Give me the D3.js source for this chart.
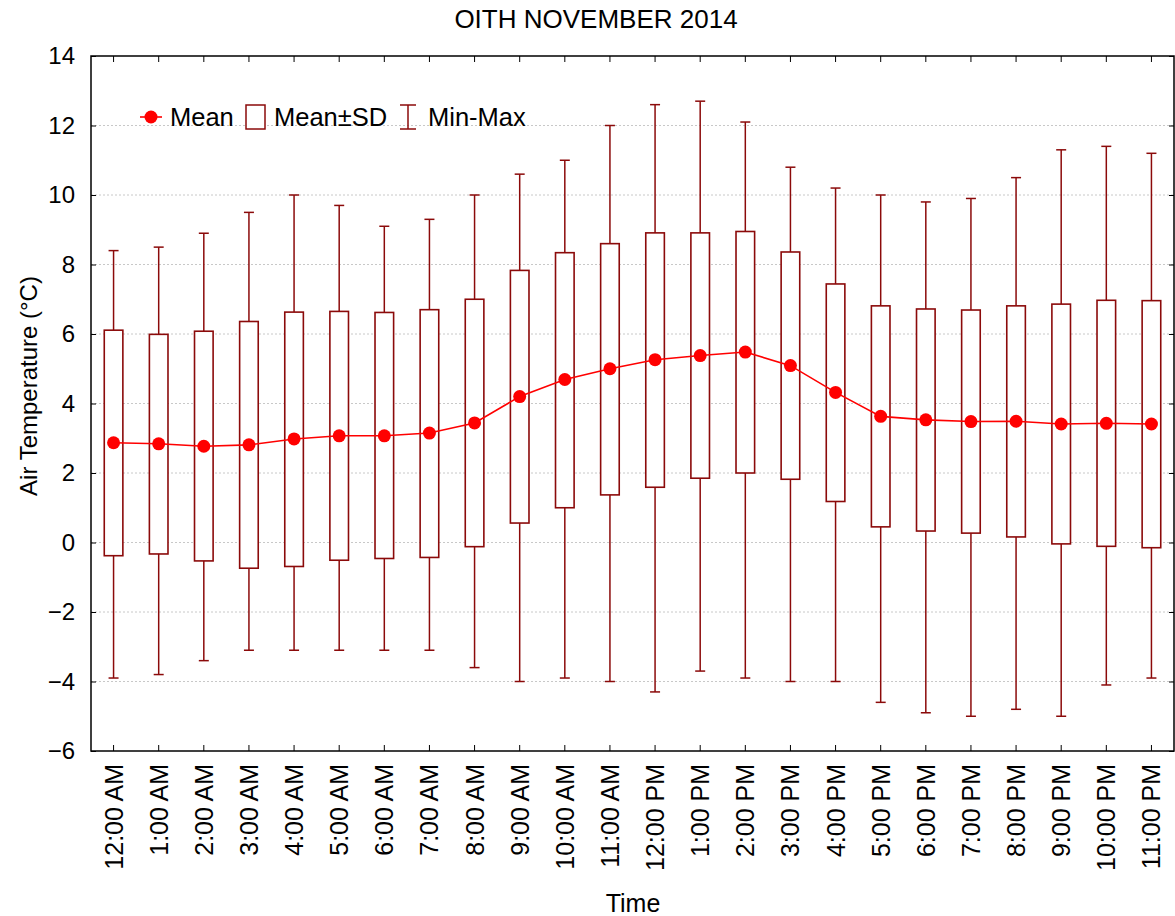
<!DOCTYPE html>
<html><head><meta charset="utf-8">
<script src="https://cdn.jsdelivr.net/npm/d3@7"></script>
<style>body{margin:0;background:#fff}svg{display:block}text{font-family:"Liberation Sans",Arial,sans-serif;fill:#000}</style>
</head><body><svg id="c" width="1175" height="916"></svg>
<script>
const categories = ["12:00 AM","1:00 AM","2:00 AM","3:00 AM","4:00 AM","5:00 AM","6:00 AM","7:00 AM","8:00 AM","9:00 AM","10:00 AM","11:00 AM","12:00 PM","1:00 PM","2:00 PM","3:00 PM","4:00 PM","5:00 PM","6:00 PM","7:00 PM","8:00 PM","9:00 PM","10:00 PM","11:00 PM"];
const meanVals = [2.87,2.84,2.77,2.81,2.98,3.07,3.07,3.15,3.44,4.20,4.69,5.00,5.26,5.38,5.48,5.09,4.32,3.63,3.53,3.48,3.49,3.41,3.43,3.41];
const sdHigh = [6.11,5.99,6.08,6.36,6.63,6.65,6.62,6.70,7.00,7.83,8.34,8.60,8.91,8.91,8.95,8.36,7.44,6.81,6.72,6.69,6.81,6.86,6.97,6.96];
const sdLow = [-0.38,-0.33,-0.53,-0.74,-0.69,-0.51,-0.46,-0.43,-0.12,0.56,1.00,1.37,1.59,1.85,2.00,1.82,1.18,0.45,0.33,0.27,0.16,-0.04,-0.11,-0.15];
const maxVals = [8.4,8.5,8.9,9.5,10.0,9.7,9.1,9.3,10.0,10.6,11.0,12.0,12.6,12.7,12.1,10.8,10.2,10.0,9.8,9.9,10.5,11.3,11.4,11.2];
const minVals = [-3.9,-3.8,-3.4,-3.1,-3.1,-3.1,-3.1,-3.1,-3.6,-4.0,-3.9,-4.0,-4.3,-3.7,-3.9,-4.0,-4.0,-4.6,-4.9,-5.0,-4.8,-5.0,-4.1,-3.9];
const yTicks = [-6,-4,-2,0,2,4,6,8,10,12,14];
const title = "OITH NOVEMBER 2014";
const xTitle = "Time";
const yTitle = "Air Temperature (°C)";

const FONT = '"Liberation Sans",Arial,sans-serif';
const svg = d3.select("#c");
const L = 91, R = 1174, T = 56, B = 751;
const x = d3.scaleBand().domain(categories).range([L, R]).paddingInner(0).paddingOuter(0);
const y = d3.scaleLinear().domain([-6, 14]).range([B, T]);
const cx = c => x(c) + x.bandwidth() / 2;
const dark = "#8b0a0a";
const data = categories.map((c, i) => ({c, mean: meanVals[i], hi: sdHigh[i], lo: sdLow[i], max: maxVals[i], min: minVals[i]}));

// grid
svg.append("g").selectAll("line").data(yTicks.filter(t => t > -6 && t < 14)).join("line")
  .attr("x1", L).attr("x2", R).attr("y1", d => y(d)).attr("y2", d => y(d))
  .attr("stroke", "#c8c8c8").attr("stroke-width", 1).attr("stroke-dasharray", "2,2");

// axes
const gl = svg.append("g").attr("transform", `translate(${L},0)`)
  .call(d3.axisLeft(y).tickValues(yTicks).tickSize(-5).tickPadding(16).tickFormat(d3.format("d")));
gl.select(".domain").remove();
gl.selectAll("line").attr("stroke", "#000");
gl.selectAll("text").style("font-size", "24px").style("font-family", FONT);
const gr = svg.append("g").attr("transform", `translate(${R},0)`)
  .call(d3.axisRight(y).tickValues(yTicks).tickSize(-5).tickFormat(""));
gr.select(".domain").remove();
gr.selectAll("line").attr("stroke", "#000");
const gb = svg.append("g").attr("transform", `translate(0,${B})`)
  .call(d3.axisBottom(x).tickSize(-6).tickPadding(0));
gb.select(".domain").remove();
gb.selectAll("line").attr("stroke", "#000");
gb.selectAll("text").style("font-size", "25px").style("font-family", FONT)
  .attr("transform", "rotate(-90)").attr("text-anchor", "end").attr("x", -13).attr("y", 0).attr("dy", "0.36em");
const gt = svg.append("g").attr("transform", `translate(0,${T})`)
  .call(d3.axisTop(x).tickSize(-6).tickFormat(""));
gt.select(".domain").remove();
gt.selectAll("line").attr("stroke", "#000");

// frame
svg.append("rect").attr("x", L).attr("y", T).attr("width", R - L).attr("height", B - T)
  .attr("fill", "none").attr("stroke", "#000").attr("stroke-width", 1.5);

// whiskers
const g = svg.append("g");
g.selectAll(".wu").data(data).join("line").attr("x1", d => cx(d.c)).attr("x2", d => cx(d.c))
  .attr("y1", d => y(d.max)).attr("y2", d => y(d.hi)).attr("stroke", dark).attr("stroke-width", 1.5);
g.selectAll(".wl").data(data).join("line").attr("x1", d => cx(d.c)).attr("x2", d => cx(d.c))
  .attr("y1", d => y(d.lo)).attr("y2", d => y(d.min)).attr("stroke", dark).attr("stroke-width", 1.5);
g.selectAll(".cu").data(data).join("line").attr("x1", d => cx(d.c) - 5).attr("x2", d => cx(d.c) + 5)
  .attr("y1", d => y(d.max)).attr("y2", d => y(d.max)).attr("stroke", dark).attr("stroke-width", 1.5);
g.selectAll(".cl").data(data).join("line").attr("x1", d => cx(d.c) - 5).attr("x2", d => cx(d.c) + 5)
  .attr("y1", d => y(d.min)).attr("y2", d => y(d.min)).attr("stroke", dark).attr("stroke-width", 1.5);
g.selectAll("rect").data(data).join("rect").attr("x", d => cx(d.c) - 9.3).attr("width", 18.6)
  .attr("y", d => y(d.hi)).attr("height", d => y(d.lo) - y(d.hi))
  .attr("fill", "#fff").attr("stroke", dark).attr("stroke-width", 1.6);

// mean line
svg.append("path").datum(data).attr("fill", "none").attr("stroke", "#ff0000").attr("stroke-width", 1.6)
  .attr("d", d3.line().x(d => cx(d.c)).y(d => y(d.mean)));
svg.append("g").selectAll("circle").data(data).join("circle")
  .attr("cx", d => cx(d.c)).attr("cy", d => y(d.mean)).attr("r", 6.5).attr("fill", "#ff0000");

// legend
const lg = svg.append("g");
const ly = 117;
lg.append("line").attr("x1", 140).attr("x2", 162).attr("y1", ly).attr("y2", ly).attr("stroke", "#ff0000").attr("stroke-width", 1.6);
lg.append("circle").attr("cx", 151).attr("cy", ly).attr("r", 6.5).attr("fill", "#ff0000");
lg.append("text").attr("x", 170).attr("y", ly).attr("dy", "0.36em").style("font-size", "25.5px").text("Mean");
lg.append("rect").attr("x", 246).attr("y", 105).attr("width", 19).attr("height", 24).attr("fill", "#fff").attr("stroke", dark).attr("stroke-width", 1.5);
lg.append("text").attr("x", 274).attr("y", ly).attr("dy", "0.36em").style("font-size", "25.5px").text("Mean±SD");
lg.append("line").attr("x1", 408).attr("x2", 408).attr("y1", 105).attr("y2", 129).attr("stroke", dark).attr("stroke-width", 1.5);
lg.append("line").attr("x1", 400).attr("x2", 416).attr("y1", 105).attr("y2", 105).attr("stroke", dark).attr("stroke-width", 1.5);
lg.append("line").attr("x1", 400).attr("x2", 416).attr("y1", 129).attr("y2", 129).attr("stroke", dark).attr("stroke-width", 1.5);
lg.append("text").attr("x", 428).attr("y", ly).attr("dy", "0.36em").style("font-size", "25.5px").text("Min-Max");

// titles
svg.append("text").attr("x", 596).attr("y", 19).attr("dy", "0.36em").attr("text-anchor", "middle").style("font-size", "26px").text(title);
svg.append("text").attr("x", 633).attr("y", 903).attr("dy", "0.36em").attr("text-anchor", "middle").style("font-size", "25px").text(xTitle);
svg.append("text").attr("transform", `translate(28,386) rotate(-90)`).attr("dy", "0.36em").attr("text-anchor", "middle").style("font-size", "24px").text(yTitle);
</script></body></html>
